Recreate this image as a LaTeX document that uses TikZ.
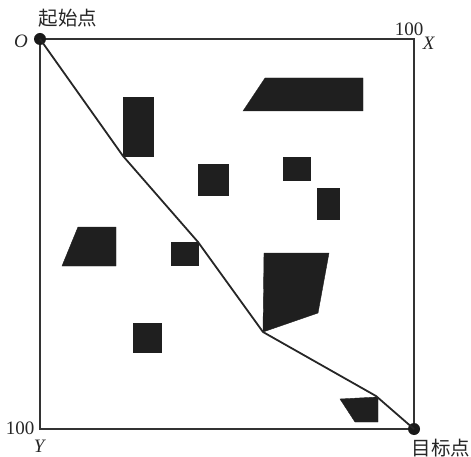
\documentclass[tikz,border=0pt]{standalone}
\usepackage{fontspec}
\setmainfont{Liberation Serif}
\newfontfamily\cjk{Noto Sans CJK SC}
\tikzset{
  obst/.style={fill=black!88, draw=black!88, line width=0.4pt},
  route/.style={line width=1.8pt, black!85, line join=round},
  frame/.style={line width=2pt, black!80},
  dot/.style={circle, fill=black!90, inner sep=0pt, minimum size=12pt},
  lab/.style={inner sep=0pt, font=\fontsize{19}{21}\selectfont, black!85},
  cjklab/.style={inner sep=0pt, font=\cjk\fontsize{19.5}{21}\selectfont, black!85},
}
\begin{document}
\begin{tikzpicture}[x=1pt,y=-1pt]
\useasboundingbox (0,0) rectangle (471,457);
% frame
\draw[frame] (40,39) rectangle (414,429);
% obstacles
\fill[obst] (123,97) rectangle (153,156);
\fill[obst] (198,164) rectangle (228,195);
\fill[obst] (62,266) -- (78,227) -- (116,227) -- (116,266) -- cycle;
\fill[obst] (171,242) rectangle (198,265);
\fill[obst] (243,111) -- (265,78) -- (363,78) -- (363,111) -- cycle;
\fill[obst] (283,157) rectangle (310,180);
\fill[obst] (317,188) rectangle (339,219);
\fill[obst] (264,253) -- (329,253) -- (318,313) -- (263,332) -- cycle;
\fill[obst] (133,323) rectangle (161,352);
\fill[obst] (340,399) -- (378,397) -- (378,422) -- (355,422) -- cycle;
% route
\node[dot] (start) at (40,39) {};
\node[dot] (goal) at (414,429) {};
\coordinate (p1) at (123,156);
\coordinate (p2) at (198,242);
\coordinate (p3) at (263,332);
\coordinate (p4) at (376,396);
\draw[route] (start.center) -- (p1) -- (p2) -- (p3) -- (p4) -- (goal.center);
% labels
\node[cjklab] (startlab) at (68,18) {起始点};
\node[lab] (olab) at (21,41) {\textit{O}};
\node[lab] (xnum) at (409,29) {100};
\node[lab] (xlab) at (429,43) {\textit{X}};
\node[lab] (ynum) at (20,428) {100};
\node[lab] (ylab) at (40,446) {\textit{Y}};
\node[cjklab] (goallab) at (441,448) {目标点};
\end{tikzpicture}
\end{document}
